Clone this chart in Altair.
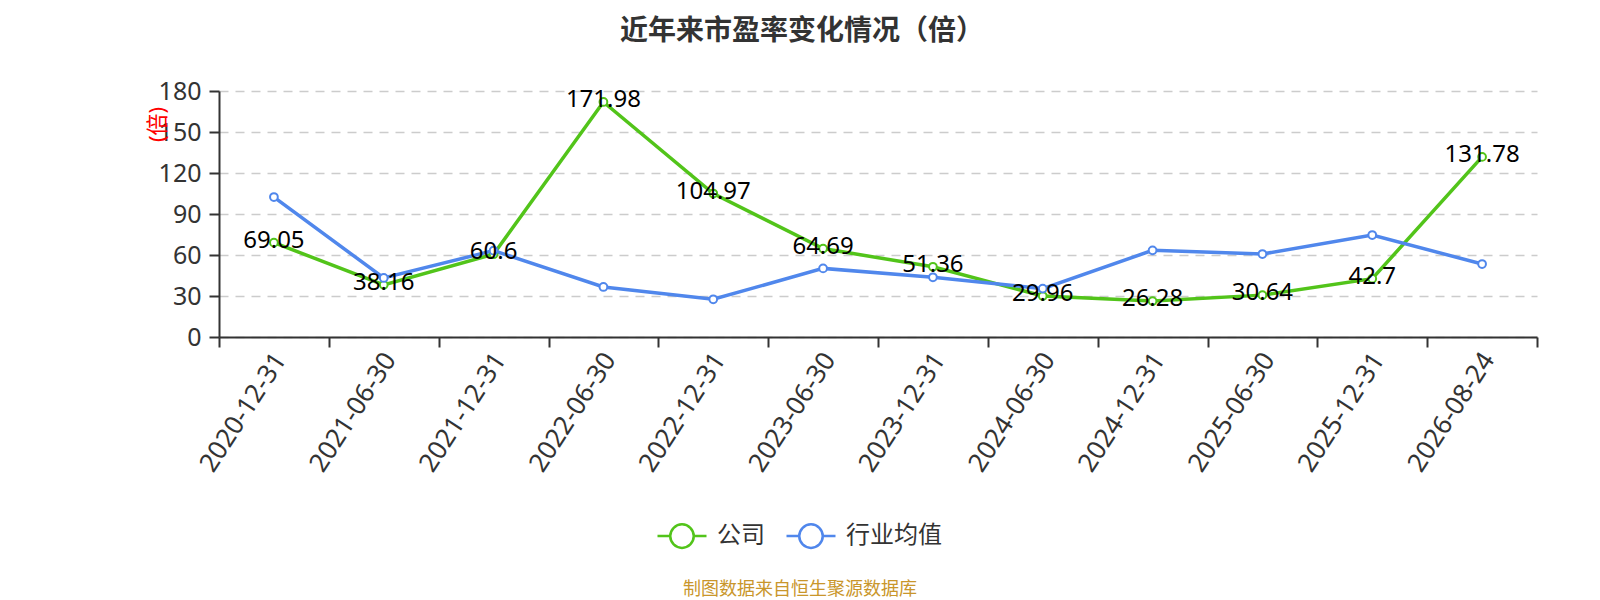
import altair as alt
import pandas as pd

# ---- data ----
dates = ["2020-12-31", "2021-06-30", "2021-12-31", "2022-06-30", "2022-12-31", "2023-06-30",
         "2023-12-31", "2024-06-30", "2024-12-31", "2025-06-30", "2025-12-31", "2026-08-24"]
company = [69.05, 38.16, 60.6, 171.98, 104.97, 64.69, 51.36, 29.96, 26.28, 30.64, 42.7, 131.78]
industry = [102.4, 43.2, 63.2, 36.6, 27.6, 50.2, 43.7, 35.4, 63.4, 60.7, 74.6, 53.4]
series_names = ["公司", "行业均值"]
series_colors = ["#52c41a", "#5087ec"]
y_ticks = [0, 30, 60, 90, 120, 150, 180]
title_text = "近年来市盈率变化情况（倍）"
y_title = "(倍)"
footer_text = "制图数据来自恒生聚源数据库"

rows = []
for d, v in zip(dates, company):
    rows.append({"date": d, "series": series_names[0], "value": v, "label": f"{v:g}"})
for d, v in zip(dates, industry):
    rows.append({"date": d, "series": series_names[1], "value": v, "label": ""})
df = pd.DataFrame(rows)

FONT = "Noto Sans, Noto Sans CJK SC"
W, H = 1318, 246

legend_path = ("M-1,0L-0.48,0M0.48,0L1,0M0.48,0A0.48,0.48,0,1,1,-0.48,0"
               "A0.48,0.48,0,1,1,0.48,0")

x_enc = alt.X(
    "date:N",
    sort=dates,
    scale=alt.Scale(type="band", paddingInner=0, paddingOuter=0),
    axis=alt.Axis(
        title=None, labelAngle=-57, labelFontSize=26, labelFont=FONT, labelColor="#333",
        tickBand="extent", tickSize=10, tickWidth=2, tickColor="#333",
        domainColor="#333", domainWidth=2, labelPadding=8, labelOffset=6, grid=False,
    ),
)
y_enc = alt.Y(
    "value:Q",
    scale=alt.Scale(domain=[0, 180], nice=False, zero=True),
    axis=alt.Axis(
        values=y_ticks, title=y_title, titleColor="red", titleFont=FONT, titleFontSize=22,
        titleFontWeight="normal", titleAngle=-90, titleX=-62, titleY=33,
        titleAlign="center", titleBaseline="middle",
        labelFontSize=25, labelFont=FONT, labelColor="#333", labelPadding=8,
        tickSize=10, tickWidth=2, tickColor="#333", domainColor="#333", domainWidth=2,
        grid=True, gridDash=[9, 7], gridColor="#cccccc", gridWidth=1.5,
    ),
)
color_scale = alt.Scale(domain=series_names, range=series_colors)

base = alt.Chart(df)

lines = base.mark_line(strokeWidth=3.5).encode(
    x=x_enc, y=y_enc,
    color=alt.Color(
        "series:N", scale=color_scale, sort=series_names,
        legend=alt.Legend(
            title=None, orient="none", legendX=437, legendY=419, direction="horizontal",
            symbolType=legend_path, symbolSize=2401, symbolStrokeWidth=2.5,
            symbolFillColor="white", labelFontSize=24, labelFont=FONT, labelColor="#333",
            labelOffset=9, columnPadding=16,
        ),
    ),
    detail="series:N",
)

points = base.mark_point(shape="circle", filled=True, fill="white", strokeWidth=2, size=60, opacity=1).encode(
    x=x_enc, y=y_enc,
    stroke=alt.Stroke("series:N", scale=color_scale, legend=None),
)

labels = base.transform_filter(alt.datum.label != "").mark_text(
    fontSize=24, font=FONT, color="#000", baseline="middle", align="center", dy=-2
).encode(x=x_enc, y=y_enc, text="label:N")

footer = alt.Chart(pd.DataFrame({"t": [footer_text]})).mark_text(
    fontSize=18, font="Noto Sans CJK SC", color="#c9962b", align="center", baseline="middle"
).encode(x=alt.value(581), y=alt.value(499), text="t:N")

chart = alt.layer(lines, points, labels, footer).properties(
    width=W, height=H,
    title=alt.TitleParams(
        text=title_text, anchor="middle", fontSize=28, font="Noto Sans CJK SC",
        fontWeight="bold", color="#333", dx=-76, offset=33,
    ),
    autosize=alt.AutoSizeParams(type="none"),
    padding={"left": 211, "top": 83, "right": 30, "bottom": 263},
).configure_view(stroke=None)

chart.save("out.html", embed_options={"renderer": "svg", "actions": False})
